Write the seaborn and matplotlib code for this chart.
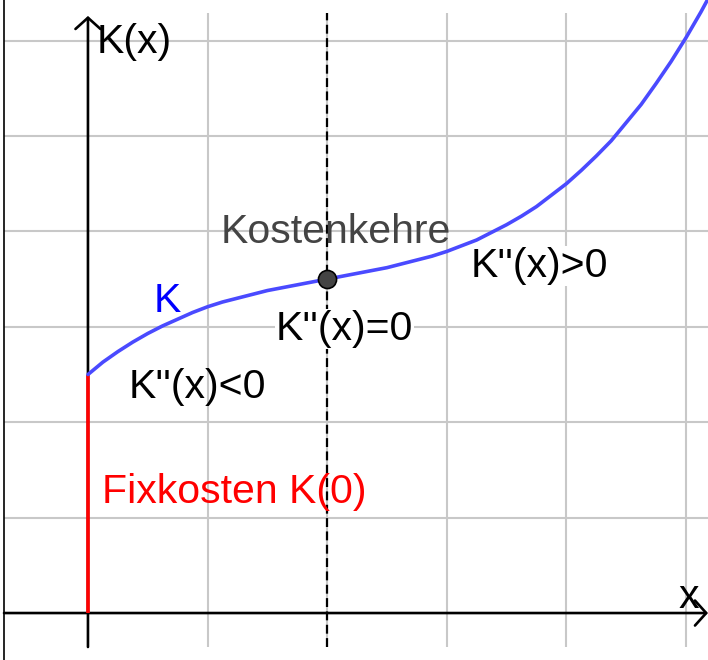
import matplotlib
matplotlib.use("Agg")
import matplotlib.pyplot as plt
from matplotlib.lines import Line2D
import seaborn as sns

x_werte = [0.0, 0.125, 0.25, 0.375, 0.5, 0.625, 0.75, 0.875, 1.0, 1.125,
           1.25, 1.375, 1.5, 1.625, 1.75, 1.875, 2.0, 2.125, 2.25, 2.375,
           2.5, 2.625, 2.75, 2.875, 3.0, 3.125, 3.25, 3.375, 3.5, 3.625,
           3.75, 3.875, 4.0, 4.125, 4.25, 4.375, 4.5, 4.625, 4.75, 4.875,
           5.0, 5.125, 5.25]
k_werte = [2.50, 2.63, 2.74, 2.84, 2.93, 3.01, 3.08, 3.15, 3.21, 3.26,
           3.30, 3.34, 3.38, 3.41, 3.44, 3.47, 3.50, 3.53, 3.56, 3.59,
           3.62, 3.66, 3.70, 3.74, 3.79, 3.85, 3.91, 3.99, 4.07, 4.16,
           4.26, 4.38, 4.50, 4.64, 4.79, 4.95, 5.14, 5.33, 5.55, 5.78,
           6.03, 6.30, 6.59]

fixkosten = 2.5
wende_x = 2.0
wende_y = 3.5

raster_x = [1, 2, 3, 4, 5]
raster_y = [1, 2, 3, 4, 5, 6]

sns.set_style("white")
plt.rcParams["font.family"] = ["Liberation Sans", "DejaVu Sans"]

fig = plt.figure(figsize=(7.08, 6.6), dpi=100)
ax = fig.add_axes([4 / 708, 13 / 660, 704 / 708, 634 / 660])

xmin, xmax = -0.702, 5.184
ymin, ymax = -0.356, 6.289
ax.set_xlim(xmin, xmax)
ax.set_ylim(ymin, ymax)

# Raster
ax.set_xticks(raster_x)
ax.set_yticks(raster_y)
ax.tick_params(length=0, labelbottom=False, labelleft=False)
ax.grid(True, color="#c8c8c8", lw=1.5, zorder=0)
for s in ax.spines.values():
    s.set_visible(False)

# gestrichelte Linie durch den Wendepunkt
ax.axvline(wende_x, color="black", lw=1.6, ls=(0, (4, 2)), zorder=2)

# Achsen mit Pfeilen
pfeil = dict(arrowstyle="->, head_length=0.45, head_width=0.5", lw=1.9,
             color="black", mutation_scale=18, shrinkA=0, shrinkB=0)
ax.annotate("", xy=(xmax, 0), xytext=(xmin, 0), arrowprops=pfeil, zorder=3,
            annotation_clip=False)
ax.annotate("", xy=(0, 6.258), xytext=(0, ymin), arrowprops=pfeil, zorder=3,
            annotation_clip=False)

# Fixkosten
ax.vlines(0, 0, fixkosten, color="#ff0000", lw=2.6, zorder=4)

# Kostenkurve
sns.lineplot(x=x_werte, y=k_werte, color="#4a4aff", lw=2.6, ax=ax,
             sort=False, estimator=None, clip_on=False, zorder=5)

# Wendepunkt
sns.scatterplot(x=[wende_x], y=[wende_y], s=170, color="#444444",
                edgecolor="black", linewidth=1.2, ax=ax, zorder=6)

fs = 29.5
ax.text(0.075, 5.87, "K(x)", fontsize=fs, color="black", va="baseline")
ax.text(4.94, 0.05, "x", fontsize=fs, color="black", va="baseline")
ax.text(1.11, 3.88, "Kostenkehre", fontsize=fs, color="#444444", va="baseline", zorder=7)
ax.text(1.57, 2.86, "K''(x)=0", fontsize=fs, color="black", va="baseline", zorder=7,
        bbox=dict(facecolor="white", edgecolor="none", pad=1))
ax.text(3.2, 3.52, "K''(x)>0", fontsize=fs, color="black", va="baseline", zorder=7,
        bbox=dict(facecolor="white", edgecolor="none", pad=1))
ax.text(0.34, 2.25, "K''(x)<0", fontsize=fs, color="black", va="baseline", zorder=7)
ax.text(0.115, 1.153, "Fixkosten K(0)", fontsize=fs, color="#ff0000", va="baseline", zorder=7)
ax.text(0.55, 3.155, "K", fontsize=fs, color="#0000ff", va="baseline", zorder=7)

# linker Rahmen
fig.add_artist(Line2D([3.5 / 708, 3.5 / 708], [0, 1], color="black", lw=1.2,
                      transform=fig.transFigure))

fig.savefig("out.png", dpi=100)
